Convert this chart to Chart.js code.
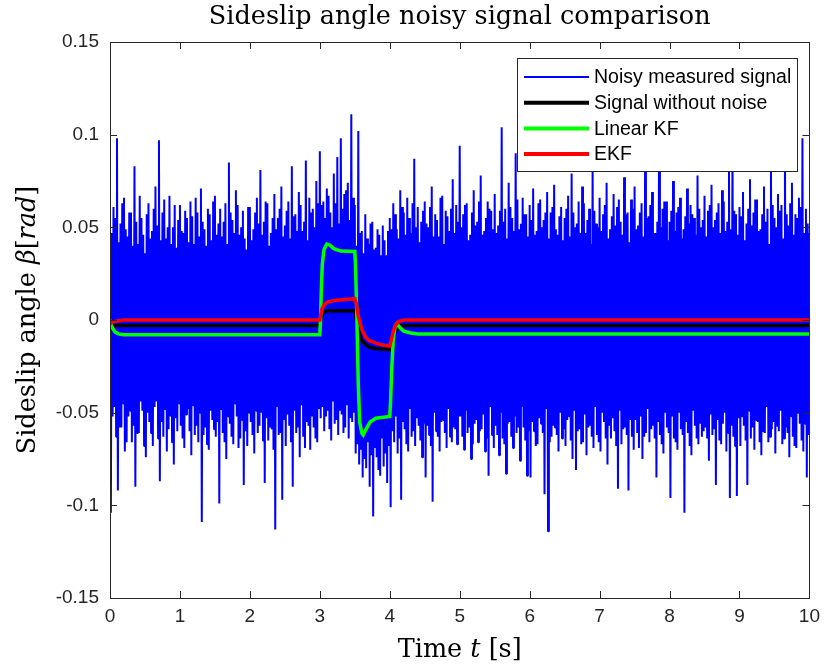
<!DOCTYPE html>
<html><head><meta charset="utf-8">
<script src="https://cdn.jsdelivr.net/npm/chart.js@4.4.1/dist/chart.umd.min.js"></script>
<style>html,body{margin:0;padding:0;background:#fff}canvas{display:block}</style>
</head><body>
<canvas id="c" width="827" height="670"></canvas>
<script>
// ---------- data ----------
const chartTitle = 'Sideslip angle noisy signal comparison';
const seriesNames = ['Noisy measured signal', 'Signal without noise', 'Linear KF', 'EKF'];
const xTickLabels = ['0','1','2','3','4','5','6','7','8','9','10'];
const yTickLabels = ['-0.15','-0.1','-0.05','0','0.05','0.1','0.15'];
const timeStart = 0, timeEnd = 10;

// measured (noisy) sideslip angle, evenly sampled from 0 to 10 s (one row = 0.25 s)
const noisyMeasured = [
 .038,-.104,.047,-.052,.061,-.047,.055,-.063,.098,-.092,.042,-.058,.052,-.058,.063,-.045,.066,-.071,.049,-.066,
 .045,-.052,.058,-.049,.058,-.066,.040,-.057,.083,-.090,.053,-.061,.041,-.061,.067,-.044,.055,-.049,.046,-.068,
 .036,-.074,.057,-.050,.063,-.055,.044,-.061,.048,-.068,.060,-.047,.072,-.044,.051,-.064,.097,-.087,.043,-.055,
 .058,-.063,.065,-.048,.044,-.071,.050,-.059,.067,-.052,.041,-.066,.050,-.078,.062,-.053,.039,-.060,.054,-.045,
 .062,-.057,.048,-.064,.047,-.069,.059,-.051,.055,-.048,.042,-.060,.064,-.073,.056,-.046,.041,-.062,.066,-.057,
 .058,-.066,.045,-.050,.071,-.109,.053,-.062,.049,-.058,.040,-.067,.060,-.070,.057,-.049,.043,-.054,.064,-.059,
 .067,-.063,.046,-.055,.052,-.099,.060,-.048,.045,-.061,.053,-.066,.063,-.075,.041,-.052,.085,-.056,.058,-.063,
 .054,-.067,.047,-.045,.070,-.052,.062,-.069,.046,-.064,.050,-.054,.059,-.089,.044,-.060,.038,-.068,.061,-.050,
 .061,-.055,.043,-.062,.049,-.072,.058,-.049,.066,-.061,.052,-.057,.081,-.050,.046,-.065,.053,-.088,.064,-.053,
 .063,-.065,.040,-.058,.047,-.059,.055,-.070,.068,-.113,.049,-.047,.055,-.062,.060,-.061,.072,-.097,.045,-.054,
 .051,-.068,.059,-.051,.064,-.057,.044,-.066,.083,-.090,.056,-.049,.057,-.061,.048,-.058,.069,-.074,.062,-.046,
 .048,-.063,.053,-.069,.086,-.055,.043,-.057,.066,-.070,.058,-.052,.060,-.058,.050,-.064,.075,-.066,.063,-.048,
 .091,-.053,.062,-.047,.064,-.060,.055,-.052,.071,-.049,.067,-.059,.058,-.065,.050,-.044,.079,-.056,.063,-.054,
 .088,-.062,.052,-.049,.098,-.051,.060,-.061,.068,-.058,.070,-.046,.074,-.064,.054,-.053,.111,-.055,.066,-.050,
 .062,-.072,.040,-.067,.102,-.078,.047,-.070,.048,-.085,.036,-.075,.057,-.080,.044,-.066,.041,-.090,.052,-.073,
 .053,-.106,.038,-.069,.039,-.074,.049,-.081,.046,-.084,.035,-.064,.051,-.079,.043,-.072,.035,-.088,.048,-.068,
 .055,-.101,.049,-.060,.063,-.066,.057,-.052,.049,-.072,.044,-.064,.070,-.097,.061,-.055,.058,-.059,.046,-.067,
 .066,-.071,.055,-.048,.047,-.063,.063,-.060,.087,-.068,.050,-.053,.061,-.057,.042,-.065,.053,-.074,.059,-.056,
 .064,-.085,.052,-.057,.050,-.062,.061,-.068,.072,-.098,.045,-.050,.057,-.060,.054,-.063,.045,-.071,.066,-.055,
 .067,-.054,.041,-.061,.059,-.069,.056,-.048,.048,-.063,.060,-.066,.076,-.058,.047,-.059,.062,-.067,.053,-.052,
 .094,-.052,.050,-.063,.057,-.070,.062,-.049,.063,-.061,.043,-.058,.046,-.075,.058,-.067,.070,-.056,.051,-.054,
 .053,-.066,.064,-.060,.078,-.059,.046,-.051,.048,-.071,.055,-.064,.064,-.084,.060,-.047,.059,-.062,.049,-.069,
 .068,-.057,.047,-.062,.051,-.073,.059,-.050,.104,-.064,.053,-.067,.060,-.083,.044,-.056,.074,-.055,.061,-.063,
 .055,-.069,.048,-.052,.090,-.061,.065,-.058,.049,-.076,.052,-.047,.066,-.058,.057,-.065,.057,-.084,.045,-.060,
 .062,-.085,.054,-.055,.071,-.060,.046,-.068,.048,-.067,.063,-.053,.065,-.056,.050,-.061,.054,-.094,.058,-.048,
 .069,-.114,.044,-.066,.058,-.063,.061,-.057,.073,-.058,.049,-.062,.046,-.071,.056,-.050,.061,-.064,.043,-.059,
 .055,-.068,.060,-.054,.067,-.052,.045,-.065,.079,-.075,.058,-.049,.050,-.081,.052,-.060,.064,-.059,.047,-.067,
 .072,-.066,.063,-.051,.047,-.073,.054,-.058,.060,-.057,.041,-.063,.083,-.069,.059,-.047,.052,-.062,.050,-.066,
 .066,-.071,.048,-.050,.057,-.055,.062,-.064,.074,-.078,.044,-.057,.049,-.064,.056,-.053,.068,-.060,.051,-.068,
 .061,-.091,.065,-.049,.053,-.067,.046,-.059,.077,-.058,.057,-.062,.058,-.092,.042,-.054,.065,-.063,.060,-.070,
 .072,-.054,.049,-.061,.051,-.069,.058,-.052,.063,-.075,.045,-.063,.080,-.061,.055,-.048,.056,-.066,.062,-.059,
 .069,-.057,.047,-.064,.047,-.085,.053,-.055,.099,-.062,.050,-.067,.060,-.072,.064,-.050,.064,-.058,.043,-.061,
 .053,-.096,.059,-.052,.075,-.064,.048,-.066,.058,-.070,.061,-.050,.066,-.059,.044,-.062,.049,-.104,.056,-.055,
 .071,-.061,.052,-.068,.062,-.073,.057,-.049,.055,-.057,.046,-.064,.078,-.067,.060,-.056,.050,-.063,.054,-.060,
 .067,-.058,.045,-.064,.059,-.076,.062,-.051,.073,-.062,.050,-.059,.054,-.089,.058,-.054,.063,-.065,.047,-.067,
 .070,-.056,.064,-.050,.048,-.071,.053,-.061,.081,-.096,.049,-.057,.092,-.063,.059,-.068,.057,-.095,.046,-.053,
 .061,-.068,.056,-.052,.069,-.057,.043,-.065,.052,-.089,.060,-.049,.076,-.064,.051,-.058,.058,-.070,.065,-.054,
 .065,-.055,.048,-.066,.049,-.073,.057,-.060,.072,-.061,.053,-.047,.060,-.066,.041,-.063,.083,-.059,.062,-.055,
 .055,-.072,.050,-.057,.068,-.060,.059,-.049,.062,-.067,.044,-.064,.095,-.058,.057,-.061,.051,-.074,.063,-.052,
 .074,-.063,.046,-.068,.057,-.069,.055,-.050,.066,-.056,.061,-.065,.098,-.071,.047,-.056,.060,-.085,.052,-.062,
 .047
];

// signal without noise
const trueTime   = [0, 3.0, 3.02, 3.05, 3.1, 3.5, 3.51, 3.53, 3.56, 3.6, 3.65, 3.7, 3.8, 4.0, 4.01, 4.03, 4.06, 4.1, 4.15, 4.2, 10];
const trueValues = [-0.003, -0.003, 0.002, 0.004, 0.005, 0.005, 0.003, -0.002, -0.007, -0.011, -0.013, -0.0145, -0.0155, -0.016, -0.014, -0.010, -0.007, -0.005, -0.0035, -0.003, -0.003];

// linear Kalman filter estimate
const kfTime   = [0, 0.03, 0.07, 0.12, 0.2, 3.0, 3.01, 3.02, 3.035, 3.06, 3.1, 3.14, 3.2, 3.3, 3.5, 3.51, 3.53, 3.55, 3.57, 3.6, 3.62, 3.66, 3.72, 3.8, 4.0, 4.01, 4.03, 4.05, 4.08, 4.1, 4.14, 4.2, 4.3, 4.4, 10];
const kfValues = [0, -0.004, -0.0065, -0.0075, -0.008, -0.008, 0.0, 0.015, 0.030, 0.038, 0.041, 0.0405, 0.0385, 0.0372, 0.037, 0.030, 0.0, -0.035, -0.055, -0.061, -0.062, -0.059, -0.055, -0.053, -0.052, -0.045, -0.025, -0.010, -0.003, -0.002, -0.004, -0.006, -0.007, -0.0075, -0.0075];

// extended Kalman filter estimate
const ekfTime   = [0, 0.05, 0.1, 0.2, 3.0, 3.01, 3.03, 3.06, 3.1, 3.2, 3.35, 3.5, 3.52, 3.55, 3.6, 3.65, 3.7, 3.8, 3.9, 4.0, 4.02, 4.05, 4.08, 4.12, 4.2, 10];
const ekfValues = [-0.002, -0.001, -0.0005, 0, 0, 0.002, 0.006, 0.008, 0.0095, 0.0105, 0.011, 0.0115, 0.009, 0.002, -0.005, -0.009, -0.011, -0.0125, -0.0135, -0.014, -0.011, -0.006, -0.003, -0.001, 0, 0];

// ---------- build ----------
const pts = (xs, ys) => ys.map((y, i) => ({x: xs[i], y}));
const noisyTime = noisyMeasured.map((_, i) => timeStart + i * (timeEnd - timeStart) / (noisyMeasured.length - 1));

const AXIS = '#262626';
const TICK_FONT = {family: 'Liberation Sans, Arial, sans-serif', size: 19};
const SERIF = 'DejaVu Serif';
const LABEL_SIZE = 25.5;

function mixedText(ctx, parts, size) {
  let w = 0;
  parts.forEach(p => { ctx.font = (p[1] ? 'italic ' : '') + size + 'px "' + SERIF + '"'; w += ctx.measureText(p[0]).width; });
  return w;
}
function drawMixed(ctx, parts, size, cx, cy) {
  const w = mixedText(ctx, parts, size);
  let x = cx - w / 2;
  ctx.textBaseline = 'middle'; ctx.textAlign = 'left';
  parts.forEach(p => { ctx.font = (p[1] ? 'italic ' : '') + size + 'px "' + SERIF + '"'; ctx.fillText(p[0], x, cy); x += ctx.measureText(p[0]).width; });
}

const decor = {
  id: 'decor',
  afterDraw(chart) {
    const ctx = chart.ctx, a = chart.chartArea, xs = chart.scales.x, ys = chart.scales.y;
    ctx.save();
    // box + inner ticks
    ctx.strokeStyle = AXIS; ctx.lineWidth = 1;
    ctx.strokeRect(Math.round(a.left) + 0.5, Math.round(a.top) + 0.5, Math.round(a.right - a.left), Math.round(a.bottom - a.top));
    const tl = 7;
    ctx.beginPath();
    xs.ticks.forEach(t => { const px = Math.round(xs.getPixelForValue(t.value)) + 0.5;
      ctx.moveTo(px, a.bottom); ctx.lineTo(px, a.bottom - tl); ctx.moveTo(px, a.top); ctx.lineTo(px, a.top + tl); });
    ys.ticks.forEach(t => { const py = Math.round(ys.getPixelForValue(t.value)) + 0.5;
      ctx.moveTo(a.left, py); ctx.lineTo(a.left + tl, py); ctx.moveTo(a.right, py); ctx.lineTo(a.right - tl, py); });
    ctx.stroke();

    // titles
    ctx.fillStyle = '#000';
    drawMixed(ctx, [[chartTitle, false]], LABEL_SIZE, (a.left + a.right) / 2, 17);
    drawMixed(ctx, [['Time ', false], ['t', true], [' [s]', false]], LABEL_SIZE, (a.left + a.right) / 2, 650);
    ctx.save();
    ctx.translate(28, (a.top + a.bottom) / 2); ctx.rotate(-Math.PI / 2);
    drawMixed(ctx, [['Sideslip angle ', false], ['β', true], ['[', false], ['rad', true], [']', false]], LABEL_SIZE, 0, 0);
    ctx.restore();

    // legend
    const lx = 517, ly = 58, lw = 280, lh = 113;
    ctx.fillStyle = '#fff'; ctx.fillRect(lx, ly, lw, lh);
    ctx.strokeStyle = AXIS; ctx.lineWidth = 1; ctx.strokeRect(lx + 0.5, ly + 0.5, lw, lh);
    ctx.font = '19.5px "Liberation Sans", Arial, sans-serif'; ctx.textBaseline = 'middle'; ctx.textAlign = 'left';
    chart.data.datasets.forEach((ds, i) => {
      const y = 77 + i * 25.7;
      ctx.strokeStyle = ds.borderColor; ctx.lineWidth = ds.legendWidth;
      ctx.beginPath(); ctx.moveTo(524, y); ctx.lineTo(589, y); ctx.stroke();
      ctx.fillStyle = '#000'; ctx.fillText(ds.label, 594, y + 1);
    });
    ctx.restore();
  }
};

new Chart(document.getElementById('c'), {
  type: 'line',
  data: {
    datasets: [
      {label: seriesNames[0], data: pts(noisyTime, noisyMeasured), borderColor: '#0000ff', borderWidth: 2, legendWidth: 2, order: 4, borderJoinStyle: 'bevel'},
      {label: seriesNames[1], data: pts(trueTime, trueValues), borderColor: '#000000', borderWidth: 3.5, legendWidth: 4, order: 3},
      {label: seriesNames[2], data: pts(kfTime, kfValues), borderColor: '#00ff00', borderWidth: 3.5, legendWidth: 4, order: 2},
      {label: seriesNames[3], data: pts(ekfTime, ekfValues), borderColor: '#ff0000', borderWidth: 3.5, legendWidth: 4, order: 1}
    ]
  },
  options: {
    responsive: false, animation: false, devicePixelRatio: 1,
    layout: {padding: {left: 0, right: 13, top: 42, bottom: 0}},
    plugins: {legend: {display: false}, tooltip: {enabled: false}, title: {display: false}},
    elements: {point: {radius: 0}, line: {tension: 0, fill: false}},
    scales: {
      x: {type: 'linear', min: 0, max: 10,
          ticks: {stepSize: 1, color: AXIS, font: TICK_FONT, padding: 7, maxRotation: 0,
                  callback: v => xTickLabels[Math.round(v)]},
          grid: {display: false, drawTicks: false}, border: {display: false},
          afterFit(s) { s.height = 72; }},
      y: {type: 'linear', min: -0.15, max: 0.15,
          ticks: {stepSize: 0.05, color: AXIS, font: TICK_FONT, padding: 11,
                  callback: v => yTickLabels[Math.round((v + 0.15) / 0.05)]},
          grid: {display: false, drawTicks: false}, border: {display: false},
          afterFit(s) { s.width = 110; }}
    }
  },
  plugins: [decor]
});
</script>
</body></html>
